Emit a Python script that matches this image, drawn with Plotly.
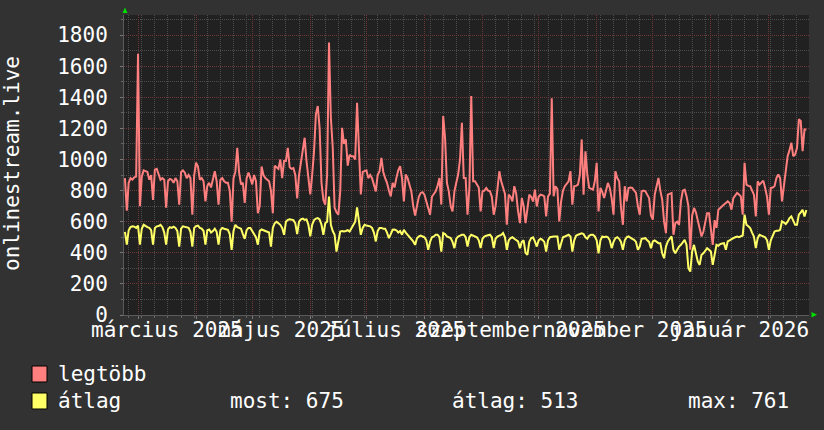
import pandas as pd
import plotly.graph_objects as go

# ---------------- data (daily, 2025-02-22 .. 2026-02-21) ----------------
start_date = "2025-02-22"
n_days = 365

legtobb = [
    880, 670, 850, 880, 870, 885, 890,
    1680, 700, 890, 930, 925, 920, 870,
    900, 740, 935, 940, 900, 870, 880,
    870, 690, 860, 875, 870, 850, 880,
    860, 710, 920, 930, 915, 880, 900,
    880, 645, 900, 980, 955, 870, 880,
    860, 730, 830, 850, 820, 880, 925,
    860, 710, 870, 880, 860, 850, 850,
    800, 600, 880, 920, 1075, 915, 840,
    850, 720, 880, 915, 880, 840, 900,
    860, 655, 700, 955, 900, 880, 870,
    860, 800, 655, 960, 950, 940, 1000,
    880, 990, 990, 1075, 950, 940, 945,
    900, 750, 900, 990, 1050, 1140, 990,
    880, 775, 900, 1050, 1290, 1344, 1200,
    850, 740, 710, 900, 1752, 1268, 1080,
    690, 660, 645, 795, 1204, 1100, 1130,
    960, 1030, 1020, 1020, 1000, 1365, 1010,
    775, 920, 924, 930, 880, 900, 880,
    830, 795, 900, 924, 1010, 920, 880,
    850, 800, 763, 850, 820, 880, 930,
    957, 880, 730, 903, 880, 840, 795,
    700, 640, 700, 760, 785, 790, 774,
    730, 700, 645, 760, 780, 795, 830,
    881, 710, 1279, 1140, 850, 795, 700,
    666, 795, 850, 903, 1000, 1236, 881,
    881, 645, 817, 1408, 860, 860, 838,
    820, 666, 795, 800, 817, 800, 795,
    760, 645, 700, 817, 924, 860, 817,
    780, 580, 774, 760, 730, 828, 780,
    666, 591, 752, 700, 591, 700, 774,
    760, 730, 806, 698, 760, 774, 770,
    763, 634, 763, 780, 1393, 763, 828,
    810, 602, 730, 800, 828, 845, 860,
    924, 709, 828, 830, 838, 900, 1129,
    774, 1053, 903, 817, 810, 806, 860,
    978, 666, 817, 790, 752, 800, 849,
    817, 750, 645, 924, 880, 860, 688,
    580, 828, 731, 817, 820, 817, 800,
    785, 700, 645, 795, 800, 795, 770,
    752, 640, 613, 774, 830, 881, 800,
    741, 600, 526, 774, 780, 785, 516,
    591, 600, 580, 731, 800, 806, 763,
    700, 420, 640, 688, 660, 602, 548,
    505, 537, 600, 655, 655, 560, 451,
    610, 560, 677, 690, 698, 710, 720,
    731, 720, 677, 752, 770, 785, 775,
    763, 645, 978, 838, 830, 828, 800,
    774, 634, 860, 838, 850, 864, 817,
    760, 645, 817, 820, 828, 880, 903,
    881, 731, 828, 913, 1021, 1060, 1107,
    1021, 1032, 1075, 1258, 1247, 1053, 1193,
    1193,
]

atlag = [
    535, 452, 545, 565, 570, 568, 560,
    575, 452, 555, 580, 570, 565, 560,
    545, 452, 560, 570, 572, 580, 565,
    530, 452, 550, 565, 560, 568, 560,
    540, 440, 555, 570, 565, 562, 560,
    535, 440, 560, 572, 575, 560, 555,
    540, 452, 545, 550, 530, 540, 555,
    535, 452, 545, 560, 555, 550, 548,
    520, 419, 540, 580, 565, 560, 555,
    520, 490, 545, 560, 560, 540, 525,
    500, 452, 540, 550, 545, 545, 540,
    530, 440, 560, 590, 600, 590, 580,
    560, 516, 600, 612, 615, 612, 610,
    590, 520, 600, 615, 620, 612, 615,
    580, 505, 580, 610, 620, 623, 615,
    580, 516, 590, 600, 761, 580, 540,
    516, 408, 470, 537, 540, 537, 540,
    545, 537, 560, 580, 600, 692, 600,
    516, 560, 580, 575, 572, 570, 560,
    530, 473, 540, 559, 560, 555, 555,
    530, 494, 520, 548, 550, 545, 530,
    540, 516, 548, 530, 516, 500, 490,
    473, 451, 494, 505, 510, 505, 500,
    480, 419, 470, 500, 505, 516, 516,
    500, 408, 527, 520, 505, 500, 495,
    470, 430, 490, 505, 510, 516, 516,
    500, 440, 500, 516, 510, 505, 500,
    480, 430, 490, 505, 510, 515, 516,
    500, 430, 490, 505, 510, 515, 527,
    500, 419, 480, 494, 500, 490, 480,
    473, 430, 470, 480, 400, 387, 470,
    494, 500, 473, 440, 480, 490, 483,
    470, 408, 480, 500, 505, 505, 505,
    505, 420, 470, 500, 505, 510, 516,
    505, 408, 480, 510, 516, 520, 525,
    520, 500, 490, 510, 516, 516, 505,
    480, 397, 480, 505, 500, 505, 500,
    480, 430, 470, 494, 500, 490, 470,
    419, 480, 500, 505, 500, 490, 483,
    470, 419, 440, 490, 494, 494, 480,
    470, 430, 473, 480, 470, 462, 462,
    397, 365, 440, 473, 490, 505, 419,
    397, 419, 440, 451, 470, 483, 451,
    301, 279, 408, 451, 400, 344, 322,
    387, 397, 410, 430, 420, 408, 322,
    397, 451, 445, 456, 460, 462, 420,
    473, 480, 490, 494, 500, 505, 500,
    505, 511, 645, 580, 570, 559, 530,
    505, 430, 494, 516, 510, 505, 500,
    480, 419, 480, 516, 537, 541, 541,
    548, 602, 595, 585, 600, 623, 634,
    600, 580, 580, 645, 660, 677, 634,
    675,
]

y_tick_vals = [0, 200, 400, 600, 800, 1000, 1200, 1400, 1600, 1800]
month_label_dates = ["2025-03-16 12:00", "2025-05-16 12:00", "2025-07-16 12:00",
                     "2025-09-16 00:00", "2025-11-16 00:00", "2026-01-16 12:00"]
month_labels = ["március 2025", "május 2025", "július 2025",
                "szeptember 2025", "november 2025", "január 2026"]
y_title = "onlinestream.live"
series_names = ["legtöbb", "átlag"]
stats_text = ["most: 675", "átlag: 513", "max: 761"]

dates = pd.date_range(start_date, periods=n_days, freq="D")

# ---------------- style ----------------
W, H = 824, 430
ML, MR, MT, MB = 124, 15, 15, 115
PW, PH = W - ML - MR, H - MT - MB
BG = "#323232"
CANVAS = "#212121"
RED = "#ff7f7f"
YEL = "#ffff66"
GRID_MAJ = "#6e3838"
GRID_MIN = "#4c4c4c"
FONT = "DejaVu Sans Mono"
TXT = "#ffffff"
FS = 21


def px(x):
    return (x - ML) / PW


def py(y):
    return (H - MB - y) / PH


fig = go.Figure()
fig.add_trace(go.Scatter(x=dates, y=legtobb, mode="lines", name=series_names[0],
                         line=dict(color=RED, width=2)))
fig.add_trace(go.Scatter(x=dates, y=atlag, mode="lines", name=series_names[1],
                         line=dict(color=YEL, width=2)))

fig.update_layout(
    width=W, height=H,
    margin=dict(l=ML, r=MR, t=MT, b=MB),
    paper_bgcolor=BG, plot_bgcolor=CANVAS,
    showlegend=False,
    font=dict(family=FONT, size=FS, color=TXT),
)

fig.update_xaxes(
    type="date",
    range=["2025-02-21 12:00", "2026-02-22 10:00"],
    showticklabels=False,
    tick0="2025-03-01", dtick="M1",
    showgrid=True, gridcolor=GRID_MAJ, gridwidth=1, griddash="1px,1px",
    ticks="outside", ticklen=3, tickcolor="#777777",
    minor=dict(tick0="2025-02-24", dtick=7 * 86400000, showgrid=True,
               gridcolor=GRID_MIN, gridwidth=1, griddash="1px,1px",
               ticks="outside", ticklen=2, tickcolor="#666666"),
    showline=True, linecolor="#5a5a5a", linewidth=1,
    zeroline=False, fixedrange=True,
)

fig.update_yaxes(
    range=[0, 1929],
    tickvals=y_tick_vals,
    tickfont=dict(family=FONT, size=FS, color=TXT),
    showgrid=True, gridcolor=GRID_MAJ, gridwidth=1, griddash="1px,1px",
    ticks="outside", ticklen=3, tickcolor="#777777",
    ticklabelstandoff=8,
    minor=dict(dtick=100, showgrid=True, gridcolor=GRID_MIN, gridwidth=1,
               griddash="1px,1px", ticks="outside", ticklen=2, tickcolor="#666666"),
    showline=True, linecolor="#5a5a5a", linewidth=1,
    zeroline=False, fixedrange=True,
)

annotations = []
for d, lab in zip(month_label_dates, month_labels):
    annotations.append(dict(x=d, xref="x", y=py(330), yref="paper", text=lab,
                            showarrow=False, xanchor="center", yanchor="middle",
                            font=dict(family=FONT, size=FS, color=TXT)))

annotations.append(dict(x=px(12), y=py(164), xref="paper", yref="paper", text=y_title,
                        textangle=-90, showarrow=False, xanchor="center", yanchor="middle",
                        font=dict(family=FONT, size=FS, color=TXT)))

# legend
annotations.append(dict(x=px(56), y=py(374), xref="paper", yref="paper", text=series_names[0],
                        showarrow=False, xanchor="left", yanchor="middle",
                        font=dict(family=FONT, size=FS, color=TXT)))
annotations.append(dict(x=px(56), y=py(401), xref="paper", yref="paper", text=series_names[1],
                        showarrow=False, xanchor="left", yanchor="middle",
                        font=dict(family=FONT, size=FS, color=TXT)))
for xpos, t in zip([228, 450, 686], stats_text):
    annotations.append(dict(x=px(xpos), y=py(401), xref="paper", yref="paper", text=t,
                            showarrow=False, xanchor="left", yanchor="middle",
                            font=dict(family=FONT, size=FS, color=TXT)))

shapes = [
    dict(type="rect", xref="paper", yref="paper", x0=px(32), x1=px(47), y0=py(382), y1=py(366),
         fillcolor=RED, line=dict(color="#000000", width=1)),
    dict(type="rect", xref="paper", yref="paper", x0=px(32), x1=px(47), y0=py(409), y1=py(393),
         fillcolor=YEL, line=dict(color="#000000", width=1)),
    # axis arrows
    dict(type="path", xref="paper", yref="paper",
         path=f"M {px(122.5)} {py(13)} L {px(127.5)} {py(13)} L {px(125)} {py(7.5)} Z",
         fillcolor="#00dd00", line=dict(color="#00dd00", width=0)),
    dict(type="path", xref="paper", yref="paper",
         path=f"M {px(811.5)} {py(312)} L {px(811.5)} {py(317.5)} L {px(817)} {py(314.7)} Z",
         fillcolor="#00dd00", line=dict(color="#00dd00", width=0)),
]

fig.update_layout(annotations=annotations, shapes=shapes)
fig.write_html(
    "out.html",
    config={"displayModeBar": False},
    post_script="document.body.style.margin='0';document.body.style.background='#323232';",
)
